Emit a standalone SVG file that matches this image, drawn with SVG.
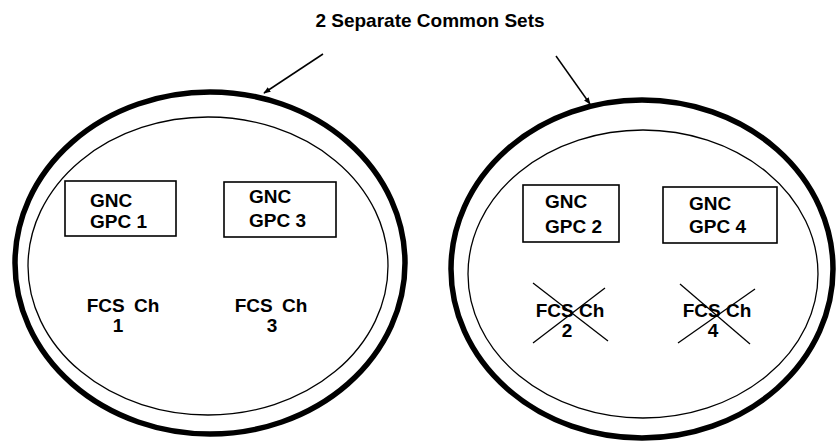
<svg xmlns="http://www.w3.org/2000/svg" width="839" height="441" viewBox="0 0 839 441">
<defs>
<style>
.outer{fill:none;stroke:#000;stroke-width:5.5}
.inner{fill:none;stroke:#000;stroke-width:1.3}
.box{fill:#fff;stroke:#000;stroke-width:1.6}
.t{font-family:"Liberation Sans",Arial,sans-serif;font-weight:bold;font-size:19px;fill:#000}
.m{text-anchor:middle}
.w{word-spacing:4px}
.x{stroke:#000;stroke-width:1.3}
.arr{stroke:#000;stroke-width:1.5;fill:none}
</style>
<marker id="ah" viewBox="0 0 10 10" refX="9" refY="5" markerWidth="7" markerHeight="7" orient="auto" markerUnits="userSpaceOnUse">
<path d="M0,1 L10,5 L0,9 z" fill="#000"/>
</marker>
</defs>
<rect width="839" height="441" fill="#fff"/>
<text class="t m" x="430" y="27">2 Separate Common Sets</text>
<g id="set1">
<ellipse class="outer" cx="210" cy="263" rx="195" ry="171"/>
<ellipse class="inner" cx="208" cy="266" rx="180" ry="149"/>
</g>
<g id="set2">
<ellipse class="outer" cx="642" cy="269" rx="191" ry="169"/>
<ellipse class="inner" cx="643" cy="274" rx="175" ry="144"/>
</g>
<g id="gpc1">
<rect class="box" x="65" y="181" width="111" height="55"/>
<text class="t" x="90" y="207">GNC</text>
<text class="t" x="90" y="228">GPC 1</text>
</g>
<g id="gpc3">
<rect class="box" x="224" y="182" width="112" height="55"/>
<text class="t" x="249" y="203">GNC</text>
<text class="t" x="249" y="227">GPC 3</text>
</g>
<g id="gpc2">
<rect class="box" x="523" y="185" width="96" height="57"/>
<text class="t" x="545" y="208">GNC</text>
<text class="t" x="545" y="233">GPC 2</text>
</g>
<g id="gpc4">
<rect class="box" x="663" y="187" width="114" height="56"/>
<text class="t" x="689" y="210">GNC</text>
<text class="t" x="689" y="233">GPC 4</text>
</g>
<g id="fcs1">
<text class="t m w" x="123" y="312">FCS Ch</text>
<text class="t m" x="118" y="332">1</text>
</g>
<g id="fcs3">
<text class="t m w" x="271" y="312">FCS Ch</text>
<text class="t m" x="272" y="332">3</text>
</g>
<g id="fcs2">
<text class="t m" x="570" y="317">FCS Ch</text>
<text class="t m" x="567" y="337">2</text>
<line class="x" x1="533" y1="283" x2="608" y2="341"/>
<line class="x" x1="605" y1="288" x2="533" y2="343"/>
</g>
<g id="fcs4">
<text class="t m" x="717" y="317">FCS Ch</text>
<text class="t m" x="713" y="337">4</text>
<line class="x" x1="680" y1="284" x2="750" y2="344"/>
<line class="x" x1="755" y1="289" x2="678" y2="343"/>
</g>
<g id="connectors">
<line class="arr" x1="323" y1="54" x2="264" y2="93" marker-end="url(#ah)"/>
<line class="arr" x1="556" y1="56" x2="590" y2="104" marker-end="url(#ah)"/>
</g>
</svg>
